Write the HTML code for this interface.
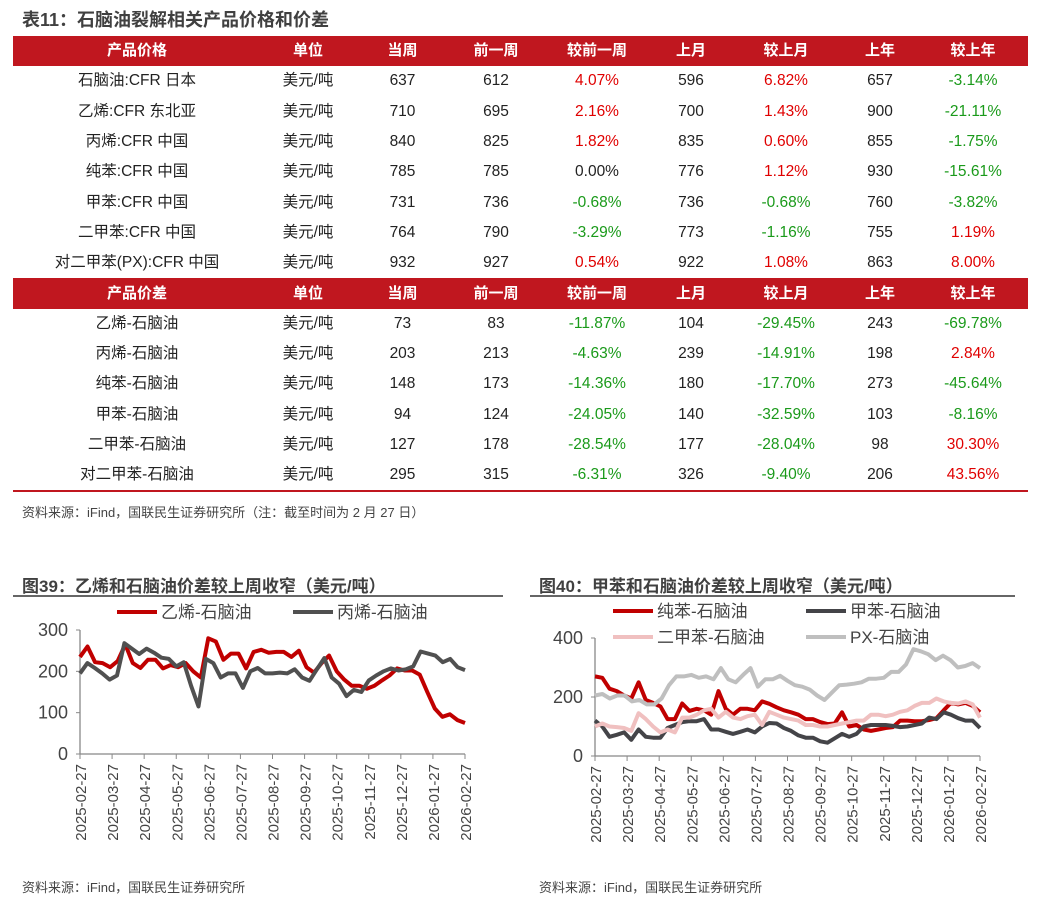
<!DOCTYPE html>
<html><head><meta charset="utf-8"><style>
body{margin:0;width:1042px;height:901px;background:#fff;font-family:"Liberation Sans","Noto Sans CJK SC",sans-serif;position:relative;overflow:hidden}
.t{position:absolute;font-weight:bold;color:#404040}
table{position:absolute;left:13px;top:36px;width:1015px;border-collapse:collapse;font-size:15.5px;color:#222;table-layout:fixed}
td{height:30.3px;padding:0;text-align:center;vertical-align:middle;line-height:18px}
tr.h td{background:#c0171f;color:#fff;font-weight:bold;font-size:15px}
.r{color:#e00000}.g{color:#1a9a1a}
.src{position:absolute;font-size:13px;color:#444}
</style></head><body>
<div class="t" style="left:22px;top:6px;font-size:18px">表11：石脑油裂解相关产品价格和价差</div>
<table>
<colgroup><col style="width:248px"><col style="width:94px"><col style="width:95px"><col style="width:92px"><col style="width:110px"><col style="width:78px"><col style="width:112px"><col style="width:76px"><col style="width:110px"></colgroup>
<tr class="h"><td>产品价格</td><td>单位</td><td>当周</td><td>前一周</td><td>较前一周</td><td>上月</td><td>较上月</td><td>上年</td><td>较上年</td></tr>
<tr><td>石脑油:CFR 日本</td><td>美元/吨</td><td>637</td><td>612</td><td class="r">4.07%</td><td>596</td><td class="r">6.82%</td><td>657</td><td class="g">-3.14%</td></tr>
<tr><td>乙烯:CFR 东北亚</td><td>美元/吨</td><td>710</td><td>695</td><td class="r">2.16%</td><td>700</td><td class="r">1.43%</td><td>900</td><td class="g">-21.11%</td></tr>
<tr><td>丙烯:CFR 中国</td><td>美元/吨</td><td>840</td><td>825</td><td class="r">1.82%</td><td>835</td><td class="r">0.60%</td><td>855</td><td class="g">-1.75%</td></tr>
<tr><td>纯苯:CFR 中国</td><td>美元/吨</td><td>785</td><td>785</td><td>0.00%</td><td>776</td><td class="r">1.12%</td><td>930</td><td class="g">-15.61%</td></tr>
<tr><td>甲苯:CFR 中国</td><td>美元/吨</td><td>731</td><td>736</td><td class="g">-0.68%</td><td>736</td><td class="g">-0.68%</td><td>760</td><td class="g">-3.82%</td></tr>
<tr><td>二甲苯:CFR 中国</td><td>美元/吨</td><td>764</td><td>790</td><td class="g">-3.29%</td><td>773</td><td class="g">-1.16%</td><td>755</td><td class="r">1.19%</td></tr>
<tr><td>对二甲苯(PX):CFR 中国</td><td>美元/吨</td><td>932</td><td>927</td><td class="r">0.54%</td><td>922</td><td class="r">1.08%</td><td>863</td><td class="r">8.00%</td></tr>
<tr class="h"><td>产品价差</td><td>单位</td><td>当周</td><td>前一周</td><td>较前一周</td><td>上月</td><td>较上月</td><td>上年</td><td>较上年</td></tr>
<tr><td>乙烯-石脑油</td><td>美元/吨</td><td>73</td><td>83</td><td class="g">-11.87%</td><td>104</td><td class="g">-29.45%</td><td>243</td><td class="g">-69.78%</td></tr>
<tr><td>丙烯-石脑油</td><td>美元/吨</td><td>203</td><td>213</td><td class="g">-4.63%</td><td>239</td><td class="g">-14.91%</td><td>198</td><td class="r">2.84%</td></tr>
<tr><td>纯苯-石脑油</td><td>美元/吨</td><td>148</td><td>173</td><td class="g">-14.36%</td><td>180</td><td class="g">-17.70%</td><td>273</td><td class="g">-45.64%</td></tr>
<tr><td>甲苯-石脑油</td><td>美元/吨</td><td>94</td><td>124</td><td class="g">-24.05%</td><td>140</td><td class="g">-32.59%</td><td>103</td><td class="g">-8.16%</td></tr>
<tr><td>二甲苯-石脑油</td><td>美元/吨</td><td>127</td><td>178</td><td class="g">-28.54%</td><td>177</td><td class="g">-28.04%</td><td>98</td><td class="r">30.30%</td></tr>
<tr><td>对二甲苯-石脑油</td><td>美元/吨</td><td>295</td><td>315</td><td class="g">-6.31%</td><td>326</td><td class="g">-9.40%</td><td>206</td><td class="r">43.56%</td></tr>
</table>
<div style="position:absolute;left:13px;top:490px;width:1015px;height:2px;background:#c0171f"></div>
<div class="src" style="left:22px;top:502px">资料来源：iFind，国联民生证券研究所（注：截至时间为 2 月 27 日）</div>

<div class="t" style="left:22px;top:572px;font-size:17px">图39：乙烯和石脑油价差较上周收窄（美元/吨）</div>
<div class="t" style="left:539px;top:572px;font-size:17px">图40：甲苯和石脑油价差较上周收窄（美元/吨）</div>
<div style="position:absolute;left:13px;top:595px;width:490px;height:2px;background:#666"></div>
<div style="position:absolute;left:530px;top:595px;width:485px;height:2px;background:#666"></div>
<svg id="svg" width="1042" height="901" style="position:absolute;left:0;top:0"></svg>
<div class="src" style="left:22px;top:877px">资料来源：iFind，国联民生证券研究所</div>
<div class="src" style="left:539px;top:877px">资料来源：iFind，国联民生证券研究所</div>
<script>
const xLabels=["2025-02-27","2025-03-27","2025-04-27","2025-05-27","2025-06-27","2025-07-27","2025-08-27","2025-09-27","2025-10-27","2025-11-27","2025-12-27","2026-01-27","2026-02-27"];
const c1Ticks=[0,100,200,300];
const c2Ticks=[0,200,400];
const ethylene=[235,260,222,220,210,225,265,220,208,228,228,207,215,210,220,200,185,280,272,228,243,243,207,247,252,245,247,247,235,250,210,197,220,238,200,180,165,165,158,165,178,190,207,202,202,192,150,110,90,96,82,75];
const propylene=[195,220,208,195,180,190,268,255,242,255,245,233,230,212,222,165,115,230,220,185,195,195,160,200,208,195,195,197,195,205,185,177,205,232,185,170,140,155,150,178,190,200,207,202,205,212,248,243,238,222,230,210,203];
const benzene=[270,265,228,220,205,195,250,190,180,168,125,125,178,153,160,155,140,220,160,140,160,160,155,185,177,165,155,148,140,125,125,115,108,110,148,100,105,90,85,90,95,98,120,120,118,118,122,128,155,180,175,180,170,148];
const toluene=[120,100,65,72,80,55,90,65,62,62,95,105,115,118,118,125,90,90,82,75,82,90,80,100,112,110,95,85,70,62,62,50,45,60,75,65,75,100,105,105,105,102,98,100,105,110,130,125,148,140,128,120,120,95];
const xylene=[100,110,100,98,95,85,145,125,100,80,90,80,130,130,140,155,160,130,150,130,125,135,140,105,150,140,130,125,120,105,105,100,100,105,110,115,120,120,140,140,135,140,150,155,170,180,180,195,185,180,178,185,175,130];
const px=[205,210,195,205,205,185,190,175,175,195,240,270,270,275,265,270,260,298,260,250,275,298,235,260,260,272,255,240,235,225,205,190,215,240,242,245,250,262,262,265,285,285,310,362,355,345,325,340,325,300,305,315,298];
const NS='http://www.w3.org/2000/svg',svg=document.getElementById('svg');
function mk(t,a,p){const e=document.createElementNS(NS,t);for(const k in a)e.setAttribute(k,a[k]);(p||svg).appendChild(e);return e;}
function chart(cfg){
  const {x0,x1,y0,y1,max,ticks,series,name}=cfg;
  const sy=v=>y0-(v/max)*(y0-y1);
  const g=mk('g',{});
  
  
  mk('line',{x1:x0,x2:x0,y1:y1,y2:y0,stroke:'#888','stroke-width':1.3},g);
  mk('line',{x1:x0,x2:x1,y1:y0,y2:y0,stroke:'#888','stroke-width':1.3},g);
  ticks.forEach(v=>{
    mk('line',{x1:x0-4,x2:x0,y1:sy(v),y2:sy(v),stroke:'#888'},g);
    const t=mk('text',{x:x0-12,y:sy(v)+6,'text-anchor':'end','font-size':18,fill:'#444','font-family':'Liberation Sans'},g);
    t.textContent=v;
    
    
  });
  xLabels.forEach((l,i)=>{
    const x=x0+i*(x1-x0)/(xLabels.length-1);
    mk('line',{x1:x,x2:x,y1:y0,y2:y0+5,stroke:'#888'},g);
    const t=mk('text',{x:0,y:0,transform:`translate(${x+6},${y0+10}) rotate(-90)`,'text-anchor':'end','font-size':15,fill:'#444','font-family':'Liberation Sans'},g);
    t.textContent=l;
    
    
  });
  series.forEach(s=>{
    const n=s.data.length;
    const pts=s.data.map((v,i)=>(x0+i*(x1-x0)/(n-1)).toFixed(1)+','+sy(v).toFixed(1)).join(' ');
    const p=mk('polyline',{points:pts,fill:'none',stroke:s.color,'stroke-width':4,'stroke-linejoin':'round'},g);
    
    
    mk('line',{x1:s.lx,x2:s.lx+40,y1:s.ly,y2:s.ly,stroke:s.color,'stroke-width':4},g);
    const t=mk('text',{x:s.lx+44,y:s.ly+6,'font-size':17,fill:'#444'},g);
    t.textContent=s.label;
    
    
  });
}
chart({name:'chart39',x0:80,x1:465,y0:754,y1:630,max:300,ticks:c1Ticks,series:[
 {name:'ethylene-line',label:'乙烯-石脑油',data:ethylene,color:'#c00000',lx:117,ly:612},
 {name:'propylene-line',label:'丙烯-石脑油',data:propylene,color:'#505050',lx:293,ly:612}]});
chart({name:'chart40',x0:595,x1:980,y0:756,y1:638,max:400,ticks:c2Ticks,series:[
 {name:'benzene-line',label:'纯苯-石脑油',data:benzene,color:'#c00000',lx:613,ly:611},
 {name:'toluene-line',label:'甲苯-石脑油',data:toluene,color:'#444448',lx:806,ly:611},
 {name:'xylene-line',label:'二甲苯-石脑油',data:xylene,color:'#f0c0c0',lx:613,ly:637},
 {name:'px-line',label:'PX-石脑油',data:px,color:'#bfbfbf',lx:806,ly:637}]});
</script>
</body></html>
